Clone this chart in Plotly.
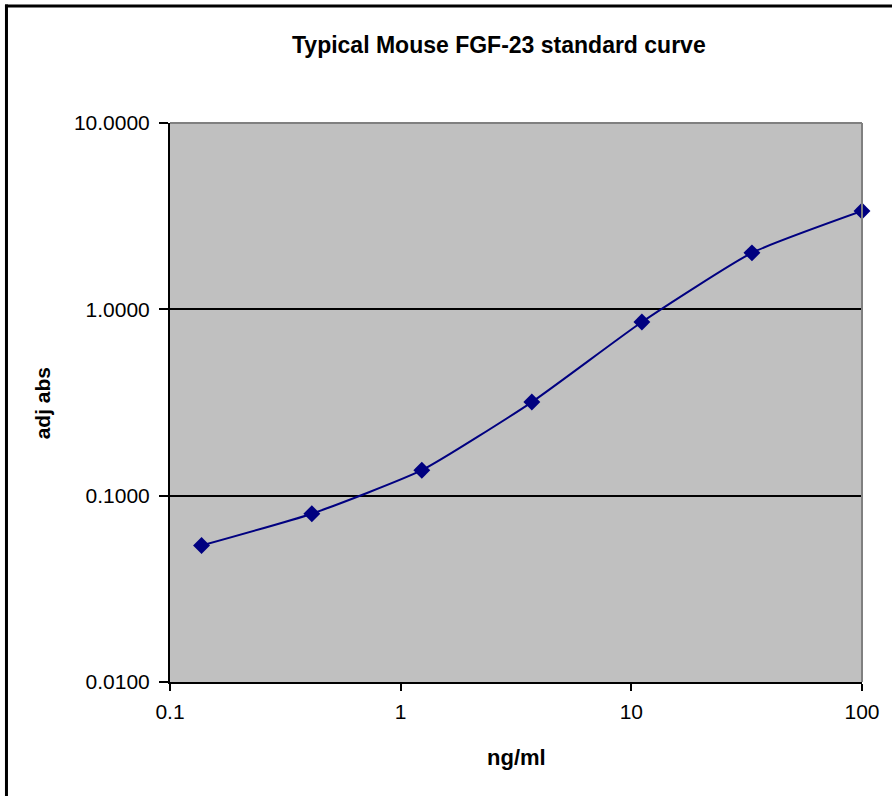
import plotly.graph_objects as go

# Data
conc_ng_ml = [0.137, 0.412, 1.235, 3.704, 11.11, 33.33, 100.0]
adj_abs = [0.054, 0.080, 0.137, 0.318, 0.855, 2.01, 3.37]

y_tick_vals = [0.01, 0.1, 1, 10]
y_tick_text = ["0.0100", "0.1000", "1.0000", "10.0000"]
x_tick_vals = [0.1, 1, 10, 100]
x_tick_text = ["0.1", "1", "10", "100"]

title_text = "Typical Mouse FGF-23 standard curve"
x_title = "ng/ml"
y_title = "adj abs"

FONT = "Liberation Sans, Arial, sans-serif"
NAVY = "#000080"

W, H = 892, 796
L, R, T, B = 170, 864, 123, 682

fig = go.Figure()
fig.add_trace(go.Scatter(
    x=conc_ng_ml, y=adj_abs, mode="lines+markers",
    line=dict(color=NAVY, width=2, shape="spline", smoothing=0.5),
    marker=dict(symbol="diamond", size=13, color=NAVY),
    showlegend=False, cliponaxis=False,
))

def px_x(px):
    return (px - L) / (R - L)

def px_y(py):
    return (B - py) / (B - T)

def border_line(x0, y0, x1, y1):
    return dict(type="line", xref="paper", yref="paper",
                x0=px_x(x0), x1=px_x(x1), y0=px_y(y0), y1=px_y(y1),
                line=dict(color="black", width=3), layer="above")

fig.update_layout(
    width=W, height=H,
    margin=dict(l=L, r=W - R, t=T, b=H - B, pad=0),
    paper_bgcolor="white",
    plot_bgcolor="#C0C0C0",
    font=dict(family=FONT, color="black", size=21),
    xaxis=dict(
        type="log", range=[-1, 2], tickvals=x_tick_vals, ticktext=x_tick_text,
        showgrid=False, zeroline=False, showline=True, linecolor="black", linewidth=2,
        ticks="outside", ticklen=7, tickwidth=1.5, tickcolor="black",
        ticklabelstandoff=3,
        tickfont=dict(family=FONT, size=21, color="black"),
    ),
    yaxis=dict(
        type="log", range=[-2, 1], tickvals=y_tick_vals, ticktext=y_tick_text,
        showgrid=True, gridcolor="black", gridwidth=2,
        zeroline=False, showline=True, linecolor="black", linewidth=2,
        ticks="outside", ticklen=9, tickwidth=1.5, tickcolor="black",
        ticklabelstandoff=5,
        tickfont=dict(family=FONT, size=21, color="black"),
    ),
    shapes=[
        # gray top/right plot-area border
        dict(type="line", xref="paper", yref="paper", x0=0, x1=1, y0=1, y1=1,
             line=dict(color="#808080", width=2), layer="above"),
        dict(type="line", xref="paper", yref="paper", x0=1, x1=1, y0=0, y1=1,
             line=dict(color="#808080", width=2), layer="above"),
        # outer chart border (top and left edges; right/bottom lie beyond the frame)
        border_line(4.5, 6, 900, 6),
        border_line(6, 4.5, 6, 800),
    ],
    annotations=[
        dict(text="<b>" + title_text + "</b>", xref="paper", yref="paper",
             x=px_x(500), y=px_y(45), showarrow=False, xanchor="center", yanchor="middle",
             font=dict(family=FONT, size=23, color="black")),
        dict(text="<b>" + x_title + "</b>", xref="paper", yref="paper",
             x=px_x(517), y=px_y(757), showarrow=False, xanchor="center", yanchor="middle",
             font=dict(family=FONT, size=22, color="black")),
        dict(text="<b>" + y_title + "</b>", xref="paper", yref="paper",
             x=px_x(42), y=px_y(403), showarrow=False, xanchor="center", yanchor="middle",
             textangle=-90, font=dict(family=FONT, size=21, color="black")),
    ],
)

fig.write_html("out.html", config={"displayModeBar": False},
               post_script="document.body.style.margin='0';")
